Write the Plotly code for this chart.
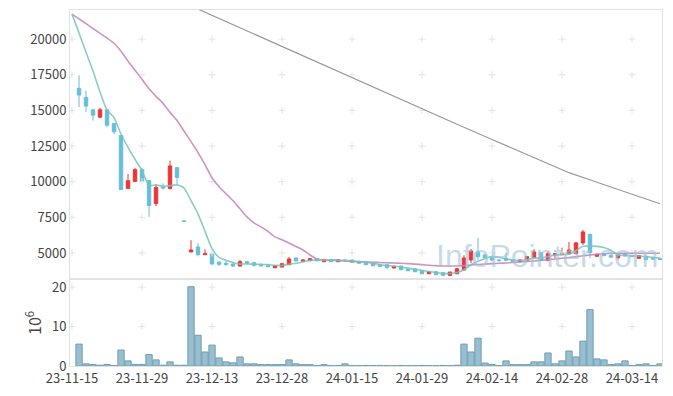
import plotly.graph_objects as go

# ---- data (index 0 = 23-11-15, trading days) ----
idx = list(range(85))
tick_idx = [0, 10, 20, 30, 40, 50, 60, 70, 80]
tick_labels = ["23-11-15", "23-11-29", "23-12-13", "23-12-28", "24-01-15",
               "24-01-29", "24-02-14", "24-02-28", "24-03-14"]

opens = [None, 16546, 15912, 15046, 14525, 15046, 14082, 13237, 9527, 10020, 10843,
         10069, 8471, 9646, 9527, 10984, 7240, 5070, 5422, 4880, 4930,
         4345, 4275, 4226, 4085, 4388, 4318, 4176, 4134, 3965, 4014,
         4176, 4648, 4416, 4458, 4600, 4388, 4528, 4388, 4500, 4507,
         4416, 4345, 4275, 4176, 4176, 3944, 4085, 3852, 3895, 3782,
         3543, 3683, 3613, 3430, 3543, 3803, 4507, 5070, 4859, 4669,
         4507, 4627, 4528, 4388, 4486, 4669, 5021, 4486, 4880, 4880,
         4951, 4951, 5704, 6314, 4768, 4908, 4810, 4669, 4930, 4838,
         4627, 4768, 4648, 4600]
highs = [None, 17461, 16384, 15080, 15187, 15070, 14100, 13250, 10540, 10963, 10963,
         10080, 9837, 9879, 11477, 11000, 7250, 5894, 5683, 5260, 4940,
         4437, 4437, 4296, 4507, 4437, 4390, 4250, 4200, 4130, 4300,
         4718, 4670, 4578, 4650, 4650, 4600, 4560, 4560, 4600, 4530,
         4430, 4360, 4290, 4190, 4190, 4120, 4100, 3870, 3910, 3800,
         3700, 3700, 3630, 3680, 3960, 4838, 5282, 6056, 4930, 4700,
         4560, 5000, 4550, 4560, 4780, 5260, 5040, 5100, 4950, 5373,
         5774, 5774, 6619, 6330, 4950, 4950, 4900, 4951, 4950, 4860,
         4860, 4790, 4670, 4650]
lows = [None, 15229, 14877, 14272, 14455, 13821, 13328, 9440, 9510, 10000, 10000,
        7534, 8288, 9456, 9456, 9837, 7220, 5060, 4768, 4870, 4180,
        4064, 4064, 4014, 4040, 4226, 4040, 4060, 4000, 3950, 4000,
        4155, 4420, 4400, 4440, 4400, 4370, 4370, 4370, 4380, 4330,
        4260, 4160, 4090, 4050, 3852, 3930, 3810, 3740, 3670, 3530,
        3530, 3460, 3420, 3420, 3530, 3790, 4275, 4528, 4600, 4450,
        4420, 4420, 4370, 4370, 4470, 4650, 4470, 4420, 4650, 4860,
        4930, 4940, 5563, 4627, 4750, 4790, 4640, 4528, 4760, 4720,
        4610, 4510, 4560, 4540]
closes = [None, 16074, 15300, 14666, 15046, 13962, 13497, 9456, 10069, 10843, 10020,
          8330, 9597, 9550, 11104, 10301, 7230, 5211, 4880, 4950, 4226,
          4204, 4204, 4085, 4388, 4275, 4134, 4106, 4035, 4106, 4247,
          4578, 4437, 4507, 4600, 4458, 4528, 4388, 4528, 4460, 4345,
          4275, 4176, 4106, 4064, 3993, 4064, 3824, 3754, 3683, 3543,
          3683, 3472, 3430, 3662, 3895, 4648, 5141, 4740, 4669, 4507,
          4460, 4486, 4388, 4507, 4740, 5070, 4486, 4951, 4930, 5000,
          5211, 5704, 6478, 5021, 4908, 4810, 4718, 4880, 4789, 4740,
          4810, 4528, 4578, 4560]

ma_short = [21750, 20420, 19080, 17740, 16300, 15010, 14490, 13325, 12406, 11565, 10777,
            9744, 9772, 9668, 9720, 9776, 9556, 8679, 7745, 6514, 5299,
            4694, 4493, 4334, 4221, 4231, 4217, 4198, 4188, 4131, 4126,
            4214, 4281, 4375, 4474, 4516, 4506, 4496, 4500, 4472, 4450,
            4399, 4357, 4272, 4193, 4123, 4081, 4010, 3940, 3864, 3774,
            3697, 3627, 3562, 3558, 3628, 3821, 4155, 4417, 4619, 4741,
            4703, 4572, 4502, 4470, 4516, 4638, 4638, 4751, 4835, 4887,
            4916, 5159, 5465, 5483, 5464, 5384, 5187, 4867, 4821, 4787,
            4787, 4749, 4689, 4643]
ma_mid = [21755, 21420, 21080, 20740, 20400, 20070, 19710, 19150, 18450, 17810, 17180,
          16510, 15980, 15490, 14860, 14290, 13550, 12810, 12040, 11200, 10280,
          9650, 9150, 8660, 8100, 7530, 7110, 6830, 6510, 6130, 5920,
          5700, 5460, 5210, 4860, 4580, 4510, 4490, 4465, 4440, 4400,
          4380, 4370, 4350, 4330, 4310, 4300, 4275, 4250, 4215, 4180,
          4140, 4110, 4085, 4085, 4085, 4120, 4155, 4190, 4225, 4250,
          4275, 4300, 4330, 4370, 4400, 4440, 4490, 4530, 4580, 4630,
          4680, 4740, 4800, 4860, 4910, 4950, 4980, 4980, 4980, 4980,
          4980, 4980, 4980, 4980]
ma_long_idx = [17, 18, 20, 25, 30, 35, 38, 40, 45, 50, 55, 60, 65, 70, 71, 75, 80, 84]
ma_long = [22320, 22100, 21665, 20570, 19480, 18390, 17740, 17300, 16210, 15120,
           14030, 12960, 11900, 10840, 10630, 9960, 9110, 8450]

volume = [None, 5.55, 0.55, 0.4, 0.2, 0.4, 0.15, 4.05, 1.3, 0.4, 0.4,
          2.9, 1.55, 0.2, 1.05, 0.2, 0.2, 20.1, 7.8, 3.55, 5.3,
          2.05, 1.05, 0.8, 2.3, 0.55, 0.55, 0.35, 0.35, 0.35, 0.35,
          1.55, 0.55, 0.35, 0.35, 0.1, 0.35, 0.1, 0.1, 0.55, 0.1,
          0.1, 0.15, 0.1, 0.15, 0.1, 0.1, 0.15, 0.1, 0.1, 0.15,
          0.1, 0.1, 0.15, 0.1, 0.2, 5.55, 3.55, 7.05, 0.75, 0.4,
          0.1, 1.3, 0.35, 0.35, 0.35, 1.05, 1.05, 3.3, 0.55, 1.3,
          3.8, 2.3, 6.3, 14.3, 1.8, 1.55, 0.35, 0.55, 1.3, 0.1,
          0.35, 0.55, 0.1, 0.55]

price_ticks = [5000, 7500, 10000, 12500, 15000, 17500, 20000]
vol_ticks = [0, 10, 20]

UP = "#ee3535"
DOWN = "#66bfd8"
FONT = "Noto Sans CJK KR, Noto Sans, sans-serif"

fig = go.Figure()

# faint grid crosses at tick intersections
cross = dict(symbol="cross-thin", size=5, line=dict(color="#e4e4e4", width=1))
gx, gy = [], []
for t in tick_idx:
    for p in price_ticks:
        gx.append(t); gy.append(p)
fig.add_trace(go.Scatter(x=gx, y=gy, mode="markers", xaxis="x", yaxis="y",
                         marker=cross, hoverinfo="skip", showlegend=False))
vx, vy = [], []
for t in tick_idx:
    for v in [10, 20]:
        vx.append(t); vy.append(v)
fig.add_trace(go.Scatter(x=vx, y=vy, mode="markers", xaxis="x2", yaxis="y2",
                         marker=cross, hoverinfo="skip", showlegend=False))

fig.add_trace(go.Candlestick(
    x=idx, open=opens, high=highs, low=lows, close=closes,
    xaxis="x", yaxis="y",
    increasing=dict(line=dict(color=UP, width=1), fillcolor=UP),
    decreasing=dict(line=dict(color=DOWN, width=1), fillcolor=DOWN),
    whiskerwidth=0, showlegend=False, hoverinfo="skip"))

fig.add_trace(go.Scatter(x=ma_long_idx, y=ma_long, mode="lines", xaxis="x", yaxis="y",
                         line=dict(color="#9a9a9a", width=1.2),
                         hoverinfo="skip", showlegend=False))
fig.add_trace(go.Scatter(x=idx, y=ma_mid, mode="lines", xaxis="x", yaxis="y",
                         line=dict(color="rgba(196,128,188,0.85)", width=1.6,
                                   shape="spline", smoothing=0.6),
                         hoverinfo="skip", showlegend=False))
fig.add_trace(go.Scatter(x=idx, y=ma_short, mode="lines", xaxis="x", yaxis="y",
                         line=dict(color="rgba(118,196,186,0.85)", width=1.6,
                                   shape="spline", smoothing=0.6),
                         hoverinfo="skip", showlegend=False))

fig.add_trace(go.Bar(x=idx, y=volume, xaxis="x2", yaxis="y2", width=0.9,
                     marker=dict(color="#98bfcf", line=dict(color="#6f9fb4", width=1)),
                     hoverinfo="skip", showlegend=False))

xr = [-0.29, 84.29]
axis_line = "#e2e2e2"
# page body has an 8px margin: size and margins compensate so the plot area
# lands at x 70-662, y 10-366 in the 673x396 window
fig.update_layout(
    width=665, height=388,
    margin=dict(l=62, r=11, t=2, b=30, autoexpand=False),
    paper_bgcolor="white", plot_bgcolor="white",
    font=dict(family=FONT, size=13, color="#444"),
    xaxis=dict(domain=[0, 1], range=xr, anchor="y", showticklabels=False,
               showgrid=False, zeroline=False, showline=True, mirror=True,
               linecolor=axis_line, linewidth=1, ticks="",
               rangeslider=dict(visible=False)),
    yaxis=dict(domain=[0.247, 1], range=[3240, 22040], tickvals=price_ticks,
               ticktext=[str(p) for p in price_ticks], showgrid=False,
               zeroline=False, showline=True, mirror=True, linecolor=axis_line,
               ticks=""),
    xaxis2=dict(domain=[0, 1], range=xr, anchor="y2", tickvals=tick_idx,
                ticktext=tick_labels, showgrid=False, zeroline=False,
                showline=True, mirror=True, linecolor=axis_line, ticks=""),
    yaxis2=dict(domain=[0, 0.2416], range=[0, 21.8], tickvals=vol_ticks,
                ticktext=[str(v) for v in vol_ticks], showgrid=False,
                zeroline=False, showline=True, mirror=True, linecolor=axis_line,
                ticks="", title=dict(text="10<sup>6</sup>", standoff=6)),
    annotations=[dict(text="InfoPointer.com", xref="paper", yref="paper",
                      x=0.806, y=0.31, xanchor="center", yanchor="middle",
                      showarrow=False,
                      font=dict(family="Liberation Sans, Arial, sans-serif",
                                size=32, color="rgba(160,195,218,0.6)"))],
)

fig.write_html("out.html", config={"displayModeBar": False})
